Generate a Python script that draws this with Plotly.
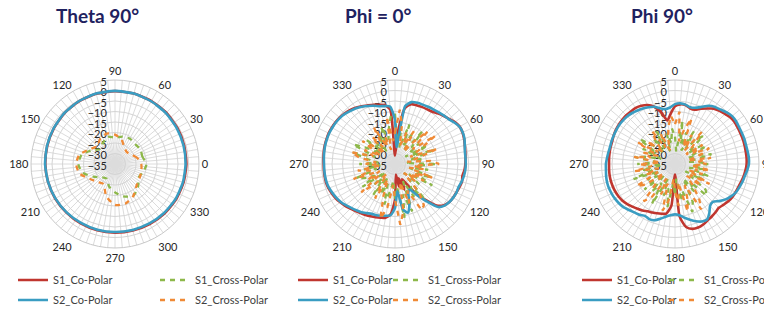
import plotly.graph_objects as go

# ---------------- data ----------------
theta15 = list(range(0, 360, 15))
theta5 = list(range(0, 360, 5))

# Theta 90 deg cut (angle CCW from east)
t90_s1_co = [-1.0, -0.9, -0.7, -0.5, -0.4, -0.3, -0.3, -0.4, -0.6, -0.9, -1.3, -1.6,
             -1.8, -2.0, -2.1, -2.3, -2.3, -2.3, -2.3, -2.2, -2.0, -1.7, -1.4, -1.2]
t90_s2_co = [-1.4, -1.2, -1.0, -0.7, -0.5, -0.3, -0.2, -0.3, -0.5, -0.8, -1.2, -1.5,
             -1.7, -2.0, -2.2, -2.4, -2.6, -2.6, -2.6, -2.5, -2.3, -2.0, -1.7, -1.5]
t90_s1_x = [-20, -21.5, -21, -21.5, -21, -21.5, -22.5, -21.5, -23.5, -25, -22, -18.5,
            -17.5, -19, -23, -26, -27, -24, -21.5, -19, -17.5, -19.5, -22, -21]
t90_s2_x = [-22.5, -24, -26, -27, -26, -23, -21, -20, -21, -23, -21, -17.5,
            -16.5, -17.5, -21, -23, -24, -19, -15.5, -15.5, -17.5, -20.5, -21.5, -22]

# Phi = 0 deg cut (angle clockwise from top)
p0_s1_co = [-31, -20, -8, -5.5, -5.2, -5, -4.8, -4.5, -3.5, -2.5,
            -1.5, -0.2, 0.6, 0.5, 0.0, -0.6, -1.0, -1.3, -1.5, -1.8,
            -2.4, -2.0, -2.4, -2.8, -3.0, -3.4, -4.5, -7, -13, -18,
            -24, -27, -22, -28, -24, -30, -18, -11, -9, -8.5,
            -8, -7.5, -7, -6.5, -5.8, -5, -4, -3.2, -2.4, -1.8,
            -1.3, -1.0, -1.0, -1.0, -1.0, -0.8, -0.6, -0.4, -0.3, -0.2,
            -0.3, -0.4, -0.6, -1.0, -1.6, -2.3, -3.2, -4.2, -5.0, -5.8,
            -6.5, -9]
p0_s2_co = [-14, -27, -7, -4.5, -4.0, -3.8, -3.5, -3.2, -2.8, -2.3,
            -1.7, -0.5, 0.5, 0.6, 0.2, -0.6, -1.2, -1.3, -1.3, -1.4,
            -1.7, -2.2, -2.8, -2.7, -3.0, -3.4, -4.2, -6.0, -12, -17,
            -21, -20, -15, -11, -13, -22, -14, -10.5, -10, -9.5,
            -9, -8.8, -8, -7, -6.3, -5.5, -4.5, -3.5, -2.8, -2.2,
            -1.6, -1.3, -1.2, -1.2, -1.2, -1.0, -0.8, -0.6, -0.5, -0.4,
            -0.5, -0.6, -0.8, -1.3, -2.0, -2.6, -3.5, -4.5, -5.5, -6.5,
            -7, -7.5]
p0_s1_x = [-11, -24, -19, -27, -15, -25, -18, -28, -15, -24,
           -20, -29, -17, -26, -15, -27, -21, -30, -15, -25,
           -19, -28, -16, -24, -14.5, -27, -20, -29, -12, -22,
           -17, -26, -11, -20, -9, -24, -18, -27, -22, -15,
           -25, -19, -28, -17, -26, -21, -29, -16, -24, -19,
           -15.5, -26, -20, -28, -18, -27, -22, -14, -25, -13,
           -20, -27, -17, -25, -21, -28, -19, -24, -16, -23,
           -18, -12]
p0_s2_x = [-20, -9, -16, -26, -19, -25, -17, -28, -21, -13,
           -24, -11.5, -22, -27, -14, -23, -29, -18, -14, -26,
           -21, -28, -16, -25, -19, -27, -22, -29, -17, -11,
           -9.7, -21, -15, -26, -12, -6, -18, -25, -14, -8,
           -19, -27, -16, -24, -29, -21, -14, -26, -20, -27,
           -14, -23, -17, -28, -21, -26, -18, -13.5, -24, -19,
           -27, -16, -22, -28, -18, -25, -15, -26, -21, -28,
           -12, -24]

# Phi = 90 deg cut (angle clockwise from top)
p90_s1_co = [-7.5, -6.5, -6.5, -7.5, -7.5, -6, -4.5, -2.8, -2, -1.3,
             -0.5, -0.3, -0.5, -0.6, -0.6, -0.7, -0.8, -0.8, -0.9, -1.3,
             -1.8, -2.4, -2.9, -3.2, -3.5, -4.0, -4.8, -5.5, -5.0, -4.5,
             -4.0, -3.2, -2.8, -3.0, -4.5, -10, -30, -15, -11, -10.5,
             -10, -9.5, -9, -8, -7.2, -6.3, -5.3, -4.5, -4, -3.7,
             -3.5, -3.4, -3.4, -3.5, -3.6, -3.5, -3.4, -3.3, -3.2, -2.8,
             -2.5, -2.3, -2.2, -2.2, -2.3, -2.4, -3, -4, -6, -9.5,
             -14, -11]
p90_s2_co = [-6.5, -6, -6.3, -7, -6.5, -5, -3, -1.8, -1.2, -0.2,
             0.5, 0.5, 0.2, 0.1, 0.1, 0.0, 0.1, 0.3, 0.2, -0.5,
             -1.3, -1.8, -2.4, -3.0, -4.2, -5.6, -7.5, -9.5, -9.0, -6.5,
             -4.5, -4.8, -6, -7.5, -9, -10.5, -11, -10.5, -9.5, -8,
             -6.5, -6, -6.5, -5.5, -4.9, -4.0, -3.0, -2.4, -2.0, -1.7,
             -1.5, -1.5, -1.7, -2.0, -2.1, -2.5, -2.8, -3.0, -2.9, -2.8,
             -2.7, -2.6, -2.7, -2.9, -3.3, -3.9, -4.5, -5.2, -6.0, -7.5,
             -8.5, -8]
p90_s1_x = [-22, -29, -14, -25, -19, -28, -17, -26, -21, -16,
            -27, -20, -18, -28, -22, -17, -29, -24, -19, -27,
            -21, -28, -18, -26, -20, -29, -16, -13.7, -24, -19,
            -27, -15, -10.7, -22, -17, -28, -20, -26, -14, -23,
            -19, -27, -13, -24, -18, -28, -16, -25, -20, -27,
            -14, -24, -19, -29, -17, -26, -15.5, -22, -28, -18,
            -25, -14.5, -21, -28, -19, -26, -17, -24, -29, -20,
            -25, -18]
p90_s2_x = [-16, -10, -24, -18, -12, -26, -19, -27, -15, -23,
            -28, -19, -25, -17, -22, -29, -17.6, -24, -20, -27,
            -18, -25, -21, -28, -16, -26, -19, -27, -22, -15,
            -10, -24, -18, -11.5, -26, -15, -22, -28, -17, -12,
            -25, -19, -27, -16, -11.8, -23, -28, -18, -14, -26,
            -20, -27, -15.4, -24, -18, -28, -15.2, -23, -19, -26,
            -14.4, -25, -18, -27, -21, -16, -26, -19, -28, -22,
            -17, -12]

titles = ["Theta 90°", "Phi = 0°", "Phi 90°"]
series_names = ["S1_Co-Polar", "S1_Cross-Polar", "S2_Co-Polar", "S2_Cross-Polar"]
radial_ticks = [-35, -30, -25, -20, -15, -10, -5, 0, 5]

# ---------------- style ----------------
W, H = 790, 310
OFF = 8  # page body margin: figure is drawn 8px right/down of the window origin
RED, BLUE, GREEN, ORANGE = "#C0362F", "#3A9DC2", "#8DB84A", "#F08A36"
FONT = "Lato"
centers = [115, 395, 675]               # window px
title_x = [97, 378, 662]                # window px
legend_cols = [(13, 155), (293, 388), (577, 664)]   # window px of each legend entry
legend_rows = [280, 300]
cy, R = 164, 84


def px(sx):
    return (sx - OFF) / W


def py(sy):
    return 1 - (sy - OFF) / H


cuts = [
    (theta15, [t90_s1_co, t90_s1_x, t90_s2_co, t90_s2_x], 0, "counterclockwise"),
    (theta5, [p0_s1_co, p0_s1_x, p0_s2_co, p0_s2_x], 90, "clockwise"),
    (theta5, [p90_s1_co, p90_s1_x, p90_s2_co, p90_s2_x], 90, "clockwise"),
]

fig = go.Figure()
colors = [RED, GREEN, BLUE, ORANGE]
dashes = ["solid", "5px,5px", "solid", "5px,5px"]

layout_extra = {}
for i, (th, vals, rot, direc) in enumerate(cuts):
    pname = "polar" if i == 0 else f"polar{i+1}"
    for k in range(4):
        idx = 4 * i + k + 1
        legname = "legend" if idx == 1 else f"legend{idx}"
        v = vals[k]
        shape = "spline" if (i == 0 or k % 2 == 0) else "linear"
        fig.add_trace(go.Scatterpolar(
            r=v + [v[0]], theta=th + [th[0]], mode="lines",
            name=series_names[k], subplot=pname, legend=legname,
            line=dict(color=colors[k], width=2.6 if k % 2 == 0 else 2.3,
                      dash=dashes[k], shape=shape, smoothing=0.6),
            hoverinfo="skip",
        ))
        row, col = k // 2, k % 2
        layout_extra[legname] = dict(
            orientation="h", x=px(legend_cols[i][col]), xanchor="left",
            y=py(legend_rows[row]), yanchor="middle",
            font=dict(size=11, color="#404040", family=FONT),
            bgcolor="rgba(0,0,0,0)", borderwidth=0,
        )
    cx = centers[i]
    ang_vals = list(range(0, 360, 5))
    layout_extra[pname] = dict(
        domain=dict(x=[px(cx - R), px(cx + R)], y=[py(cy + R), py(cy - R)]),
        bgcolor="white",
        radialaxis=dict(range=[-35, 5], tickvals=radial_ticks, angle=90, side="counterclockwise",
                        showline=False, ticks="", gridcolor="#d4d4d4", gridwidth=1,
                        tickfont=dict(size=11, color="#262626", family=FONT), layer="below traces"),
        angularaxis=dict(rotation=rot, direction=direc, tickvals=ang_vals,
                         ticktext=[str(a) if a % 30 == 0 else "" for a in ang_vals],
                         showline=True, linecolor="#c8c8c8", linewidth=1,
                         gridcolor="#dcdcdc", gridwidth=0.6, ticks="",
                         tickfont=dict(size=11, color="#262626", family=FONT), layer="below traces"),
    )
    fig.add_annotation(text=f"<b>{titles[i]}</b>", x=px(title_x[i]), y=py(15),
                       xref="paper", yref="paper", xanchor="center", yanchor="middle",
                       showarrow=False,
                       font=dict(size=19, color="#1F2260", family=FONT))

fig.update_layout(width=W, height=H, margin=dict(l=0, r=0, t=0, b=0, autoexpand=False),
                  paper_bgcolor="white", showlegend=True, **layout_extra)
fig.write_html("out.html")
